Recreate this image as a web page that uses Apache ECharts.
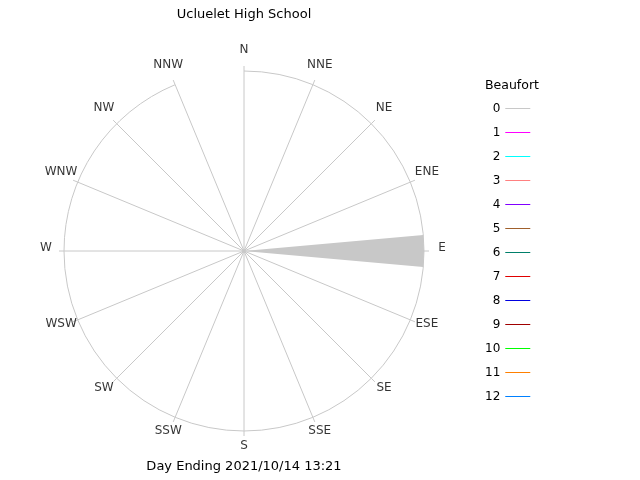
<!DOCTYPE html>
<html><head><meta charset="utf-8">
<script src="https://cdn.jsdelivr.net/npm/echarts@6/dist/echarts.min.js"></script>
<style>html,body{margin:0;padding:0;background:#fff}#c{width:640px;height:480px}</style>
</head><body><div id="c"></div>
<script>
var directions = ['N','NNE','NE','ENE','E','ESE','SE','SSE','S','SSW','SW','WSW','W','WNW','NW','NNW'];
var beaufortLevels = ['0','1','2','3','4','5','6','7','8','9','10','11','12'];
var beaufortColors = ['#c8c8c8','#ff00ff','#00ffff','#ff8080','#8000ff','#a0602c','#007f6a','#e00000','#0000e0','#a00000','#00ff00','#ff8000','#0080ff'];
// percentage frequency per direction for each Beaufort level
var freq = {
  '0': [0,0,0,0,100,0,0,0,0,0,0,0,0,0,0,0]
};
var titleText = 'Ucluelet High School';
var footText = 'Day Ending 2021/10/14 13:21';
var legendTitle = 'Beaufort';

var font = 'DejaVu Sans';
var chart = echarts.init(document.getElementById('c'));
var series = beaufortLevels.map(function(b, i){
  return {
    name: b, type: 'bar', coordinateSystem: 'polar', polarIndex: 1,
    stack: 'w', barWidth: '45%',
    itemStyle: {color: beaufortColors[i]},
    data: freq[b] || directions.map(function(){return 0;}),
    silent: true
  };
});
// direction labels placed just outside the ring, centred on each spoke
series.push({
  name: 'dirLabels', type: 'scatter', coordinateSystem: 'polar', polarIndex: 0,
  symbolSize: 1, silent: true, clip: false,
  itemStyle: {color: 'rgba(0,0,0,0)'},
  data: directions.map(function(d, i){ return [110, i]; }),
  label: {show: true, position: 'inside', offset: [0, -3],
    formatter: function(p){ return directions[p.dataIndex]; },
    fontFamily: font, fontSize: 12, color: '#000', textBorderWidth: 0}
});
chart.setOption({
  animation: false,
  textStyle: {fontFamily: font},
  title: [
    {text: titleText, left: 244, top: 8, padding: 0, textAlign: 'center', textStyle: {fontFamily: font, fontSize: 13, fontWeight: 'normal', color: '#000'}},
    {text: footText, left: 244, top: 460, padding: 0, textAlign: 'center', textStyle: {fontFamily: font, fontSize: 13, fontWeight: 'normal', color: '#000'}},
    {text: legendTitle, left: 485, top: 79, padding: 0, textStyle: {fontFamily: font, fontSize: 12.5, fontWeight: 'normal', color: '#000'}}
  ],
  legend: {
    orient: 'vertical', left: 485, top: 101.5, align: 'right', padding: 0,
    icon: 'rect', itemWidth: 25, itemHeight: 1, itemGap: 10,
    textStyle: {fontFamily: font, fontSize: 12, color: '#000', lineHeight: 14, padding: [0,0,0,0]},
    selectedMode: false,
    data: beaufortLevels
  },
  polar: [
    {center: [244, 251], radius: 180},
    {center: [244, 251], radius: 180}
  ],
  angleAxis: [
    {polarIndex: 0, type: 'category', data: directions, boundaryGap: false, startAngle: 90, clockwise: true,
     axisLine: {show: true, lineStyle: {color: '#c8c8c8', width: 1}},
     axisTick: {show: true, length: 5, inside: false, lineStyle: {color: '#c8c8c8'}},
     axisLabel: {show: false},
     splitLine: {show: true, lineStyle: {color: '#c8c8c8', width: 1}}},
    {polarIndex: 1, type: 'category', data: directions, boundaryGap: true, startAngle: 101.25, clockwise: true,
     axisLine: {show: false}, axisTick: {show: false}, axisLabel: {show: false}, splitLine: {show: false}}
  ],
  radiusAxis: [
    {polarIndex: 0, type: 'value', min: 0, max: 100, show: false, splitLine: {show: false}, axisLine: {show: false}},
    {polarIndex: 1, type: 'value', min: 0, max: 100, show: false, splitLine: {show: false}, axisLine: {show: false}}
  ],
  series: series
});
</script></body></html>
